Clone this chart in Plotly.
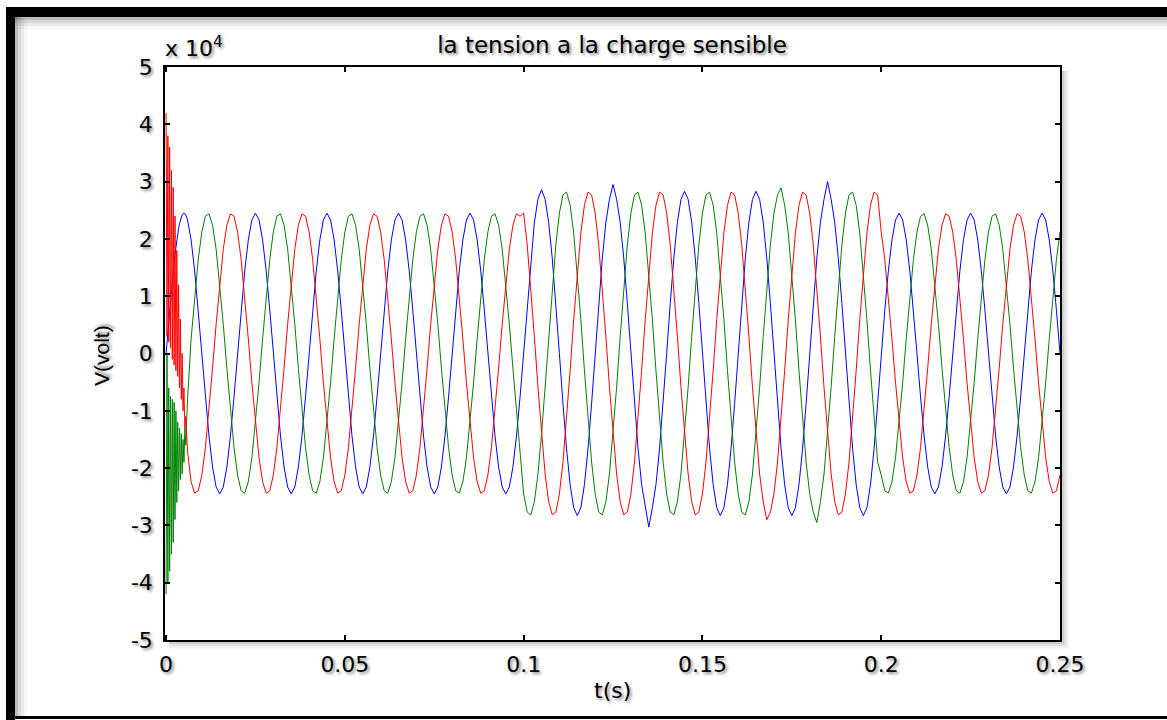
import numpy as np
import plotly.graph_objects as go

# ---------------- data ----------------
# sample instants in ms: 0.25 ms over the start-up transient, then every 1 ms
t_ms = np.concatenate([np.arange(0, 6.001, 0.25), np.arange(7, 251, 1)])
t_s = t_ms / 1000.0

# phase voltage shown in blue (V)
v_blue = [
    0, 1920, 3830, 5720, 7570, 9380, 11120, 12800, 14400, 15910, 17320, 18630, 19820,
    20890, 21830, 22640, 23300, 23820, 24200, 24420, 24500, 24420, 24200, 23820, 23300,
    19820, 14410, 7570, 0, -7570, -14410, -19820, -23300, -24500, -23300, -19820, -14410, -7570,
    0, 7570, 14410, 19820, 23300, 24500, 23300, 19820, 14410, 7570, 0, -7570, -14410, -19820, -23300, -24500, -23300, -19820, -14410, -7570,
    0, 7570, 14410, 19820, 23300, 24500, 23300, 19820, 14410, 7570, 0, -7570, -14410, -19820, -23300, -24500, -23300, -19820, -14410, -7570,
    0, 7570, 14410, 19820, 23300, 24500, 23300, 19820, 14410, 7570, 0, -7570, -14410, -19820, -23300, -24500, -23300, -19820, -14410, -7570,
    0, 7570, 14410, 19820, 23300, 24500, 23300, 19820, 14410, 7570, 0, -7570, -14410, -19820, -23300, -24500, -23300, -19820, -14410, -7570,
    0, 8745, 16640, 22890, 26910, 28600, 26910, 22890, 16640, 8745, 0, -8745, -16640, -22890, -26910, -28300, -26910, -22890, -16640, -8745,
    0, 8745, 16640, 22890, 26910, 29500, 26910, 22890, 16640, 8745, 0, -8745, -16640, -22890, -26910, -30300, -26910, -22890, -16640, -8745,
    0, 8745, 16640, 22890, 26910, 28300, 26910, 22890, 16640, 8745, 0, -8745, -16640, -22890, -26910, -28300, -26910, -22890, -16640, -8745,
    0, 8745, 16640, 22890, 26910, 28300, 26910, 22890, 16640, 8745, 0, -8745, -16640, -22890, -26910, -28300, -26910, -22890, -16640, -8745,
    0, 8745, 16640, 22890, 26910, 30000, 26910, 22890, 16640, 8745, 0, -8745, -16640, -22890, -26910, -28300, -26910, -22890, -16640, -8745,
    0, 7570, 14410, 19820, 23300, 24500, 23300, 19820, 14410, 7570, 0, -7570, -14410, -19820, -23300, -24500, -23300, -19820, -14410, -7570,
    0, 7570, 14410, 19820, 23300, 24500, 23300, 19820, 14410, 7570, 0, -7570, -14410, -19820, -23300, -24500, -23300, -19820, -14410, -7570,
    0, 7570, 14410, 19820, 23300, 24500, 23300, 19820, 14410, 7570, 0,
]

# phase voltage shown in green (V)
v_green = [
    -42000, 0, -40000, -6000, -38000, -7500, -35000, -8000, -33000, -8500, -29000, -10000, -26000,
    -12000, -24000, -13000, -22000, -14000, -21000, -15000, -19000, -13000, -16000, -10000, -8000,
    2570, 9970, 16390, 21220, 23960, 24380, 22390, 18200, 12250, 5100, -2570, -9970, -16390,
    -21220, -23960, -24380, -22390, -18200, -12250, -5100, 2570, 9970, 16390, 21220, 23960, 24380, 22390, 18200, 12250, 5100, -2570, -9970, -16390,
    -21220, -23960, -24380, -22390, -18200, -12250, -5100, 2570, 9970, 16390, 21220, 23960, 24380, 22390, 18200, 12250, 5100, -2570, -9970, -16390,
    -21220, -23960, -24380, -22390, -18200, -12250, -5100, 2570, 9970, 16390, 21220, 23960, 24380, 22390, 18200, 12250, 5100, -2570, -9970, -16390,
    -21220, -23960, -24380, -22390, -18200, -12250, -5100, 2570, 9970, 16390, 21220, 23960, 24380, 22390, 18200, 12250, 5100, -2570, -9970, -16390,
    -24510, -27680, -28160, -25870, -21030, -14150, -5890, 2970, 11520, 18930, 24510, 27680, 28160, 25870, 21030, 14150, 5890, -2970, -11520, -18930,
    -24510, -27680, -28160, -25870, -21030, -14150, -5890, 2970, 11520, 18930, 24510, 27680, 28160, 25870, 21030, 14150, 5890, -2970, -11520, -18930,
    -24510, -27680, -28160, -25870, -21030, -14150, -5890, 2970, 11520, 18930, 24510, 27680, 28160, 25870, 21030, 14150, 5890, -2970, -11520, -18930,
    -24510, -27680, -28160, -25870, -21030, -14150, -5890, 2970, 11520, 18930, 24510, 27680, 28900, 25870, 21030, 14150, 5890, -2970, -11520, -18930,
    -24510, -27680, -29500, -25870, -21030, -14150, -5890, 2970, 11520, 18930, 24510, 27680, 28160, 25870, 21030, 14150, 5890, -2970, -11520, -18930,
    -21220, -23960, -24380, -22390, -18200, -12250, -5100, 2570, 9970, 16390, 21220, 23960, 24380, 22390, 18200, 12250, 5100, -2570, -9970, -16390,
    -21220, -23960, -24380, -22390, -18200, -12250, -5100, 2570, 9970, 16390, 21220, 23960, 24380, 22390, 18200, 12250, 5100, -2570, -9970, -16390,
    -21220, -23960, -24380, -22390, -18200, -12250, -5100, 2570, 9970, 16390, 21220,
]

# phase voltage shown in red (V)
v_red = [
    42000, 3000, 38000, 2000, 36000, 1000, 32000, -1000, 29000, -2000, 24000, -3000, 18000,
    -4000, 12000, -6000, 6000, -8000, 0, -10000, -6000, -13000, -11000, -15000, -17000,
    -22390, -24380, -23960, -21220, -16390, -9970, -2570, 5100, 12250, 18200, 22390, 24380, 23960,
    21220, 16390, 9970, 2570, -5100, -12250, -18200, -22390, -24380, -23960, -21220, -16390, -9970, -2570, 5100, 12250, 18200, 22390, 24380, 23960,
    21220, 16390, 9970, 2570, -5100, -12250, -18200, -22390, -24380, -23960, -21220, -16390, -9970, -2570, 5100, 12250, 18200, 22390, 24380, 23960,
    21220, 16390, 9970, 2570, -5100, -12250, -18200, -22390, -24380, -23960, -21220, -16390, -9970, -2570, 5100, 12250, 18200, 22390, 24380, 23960,
    21220, 16390, 9970, 2570, -5100, -12250, -18200, -22390, -24380, -23960, -21220, -16390, -9970, -2570, 5100, 12250, 18200, 22390, 24380, 23960,
    24510, 18930, 11520, 2970, -5890, -14150, -21030, -25870, -28160, -27680, -24510, -18930, -11520, -2970, 5890, 14150, 21030, 25870, 28160, 27680,
    24510, 18930, 11520, 2970, -5890, -14150, -21030, -25870, -28160, -27680, -24510, -18930, -11520, -2970, 5890, 14150, 21030, 25870, 28160, 27680,
    24510, 18930, 11520, 2970, -5890, -14150, -21030, -25870, -28160, -27680, -24510, -18930, -11520, -2970, 5890, 14150, 21030, 25870, 28160, 27680,
    24510, 18930, 11520, 2970, -5890, -14150, -21030, -25870, -29000, -27680, -24510, -18930, -11520, -2970, 5890, 14150, 21030, 25870, 28160, 27680,
    24510, 18930, 11520, 2970, -5890, -14150, -21030, -25870, -28160, -27680, -24510, -18930, -11520, -2970, 5890, 14150, 21030, 25870, 28160, 27680,
    21220, 16390, 9970, 2570, -5100, -12250, -18200, -22390, -24380, -23960, -21220, -16390, -9970, -2570, 5100, 12250, 18200, 22390, 24380, 23960,
    21220, 16390, 9970, 2570, -5100, -12250, -18200, -22390, -24380, -23960, -21220, -16390, -9970, -2570, 5100, 12250, 18200, 22390, 24380, 23960,
    21220, 16390, 9970, 2570, -5100, -12250, -18200, -22390, -24380, -23960, -21220,
]

x_tick_vals = [0, 0.05, 0.1, 0.15, 0.2, 0.25]
x_tick_text = ["0", "0.05", "0.1", "0.15", "0.2", "0.25"]
y_tick_vals = [-50000, -40000, -30000, -20000, -10000, 0, 10000, 20000, 30000, 40000, 50000]
y_tick_text = ["-5", "-4", "-3", "-2", "-1", "0", "1", "2", "3", "4", "5"]

assert len(v_blue) == len(t_s) == len(v_green) == len(v_red)

# ---------------- figure ----------------
W, H = 1167, 720
L, R, T, B = 165, 1060, 67, 640  # plot area in pixels


def px(x):
    return (x - L) / (R - L)


def py(y):
    return (B - y) / (B - T)


SHADOW = "2px 2px 3px rgba(0,0,0,0.45)"
HFONT = "DejaVu Sans"

fig = go.Figure()
fig.add_trace(go.Scatter(x=t_s, y=v_blue, mode="lines", line=dict(color="rgb(0,0,255)", width=1), hoverinfo="skip"))
fig.add_trace(go.Scatter(x=t_s, y=v_green, mode="lines", line=dict(color="rgb(0,128,0)", width=1), hoverinfo="skip"))
fig.add_trace(go.Scatter(x=t_s, y=v_red, mode="lines", line=dict(color="rgb(255,0,0)", width=1), hoverinfo="skip"))

axis_common = dict(
    showline=True, linecolor="black", linewidth=1.5, mirror="ticks",
    ticks="inside", ticklen=5, tickwidth=1.5, tickcolor="black",
    showgrid=False, zeroline=False, tickmode="array",
    tickfont=dict(family=HFONT, size=22, color="black", shadow=SHADOW),
)

fig.update_layout(
    width=W, height=H, autosize=False,
    margin=dict(l=L, r=W - R, t=T, b=H - B),
    paper_bgcolor="white", plot_bgcolor="white",
    showlegend=False,
    title=dict(text="la tension a la charge sensible", x=(612 / W), xanchor="center",
               y=1 - 45 / H, yanchor="middle", yref="container",
               font=dict(family=HFONT, size=23, color="black", shadow=SHADOW)),
    xaxis=dict(range=[-0.0003, 0.25], tickvals=x_tick_vals, ticktext=x_tick_text,
               ticklabelstandoff=4, **axis_common),
    yaxis=dict(range=[-50000, 50000], tickvals=y_tick_vals, ticktext=y_tick_text,
               ticklabelstandoff=6, **axis_common),
)

annotations = [
    dict(text="t(s)", x=0.5, y=py(690), xref="paper", yref="paper", showarrow=False,
         xanchor="center", yanchor="middle",
         font=dict(family=HFONT, size=22, color="black", shadow=SHADOW)),
    dict(text="V(volt)", x=px(101), y=py(356), xref="paper", yref="paper", showarrow=False,
         textangle=-90, xanchor="center", yanchor="middle",
         font=dict(family="Liberation Sans", size=21, color="black", shadow=SHADOW)),
    dict(text="x 10<sup>4</sup>", x=px(163), y=py(63), xref="paper", yref="paper", showarrow=False,
         xanchor="left", yanchor="bottom",
         font=dict(family=HFONT, size=22, color="black", shadow=SHADOW)),
]
fig.update_layout(annotations=annotations)

shapes = []
# soft shadow of the axes box (right and bottom)
for i, a in enumerate([0.10, 0.08, 0.06, 0.04, 0.02]):
    d = 2 + 2 * i
    shapes.append(dict(type="rect", xref="paper", yref="paper", layer="below",
                       x0=px(R + 1), x1=px(R + d), y0=py(B + d), y1=py(T + 4),
                       line=dict(width=0), fillcolor=f"rgba(0,0,0,{a})"))
    shapes.append(dict(type="rect", xref="paper", yref="paper", layer="below",
                       x0=px(L + 4), x1=px(R + 1), y0=py(B + d), y1=py(B + 1),
                       line=dict(width=0), fillcolor=f"rgba(0,0,0,{a})"))
# inner shadow of the outer frame
for i, a in enumerate([0.12, 0.08, 0.05, 0.03]):
    d = 3 + 3 * i
    shapes.append(dict(type="rect", xref="paper", yref="paper", layer="below",
                       x0=px(15), x1=px(W), y0=py(17 + d), y1=py(17),
                       line=dict(width=0), fillcolor=f"rgba(0,0,0,{a})"))
    shapes.append(dict(type="rect", xref="paper", yref="paper", layer="below",
                       x0=px(15), x1=px(15 + d), y0=py(716), y1=py(17),
                       line=dict(width=0), fillcolor=f"rgba(0,0,0,{a})"))
# outer black frame
shapes.append(dict(type="rect", xref="paper", yref="paper", layer="above",
                   x0=px(6), x1=px(W + 2), y0=py(17), y1=py(7),
                   line=dict(width=0), fillcolor="black"))
shapes.append(dict(type="rect", xref="paper", yref="paper", layer="above",
                   x0=px(6), x1=px(15), y0=py(H + 2), y1=py(7),
                   line=dict(width=0), fillcolor="black"))
shapes.append(dict(type="rect", xref="paper", yref="paper", layer="above",
                   x0=px(6), x1=px(W + 2), y0=py(719), y1=py(716),
                   line=dict(width=0), fillcolor="black"))
fig.update_layout(shapes=shapes)

fig.write_html(
    "out.html",
    config={"displayModeBar": False},
    post_script="document.body.style.margin='0px';document.body.style.overflow='hidden';",
)
